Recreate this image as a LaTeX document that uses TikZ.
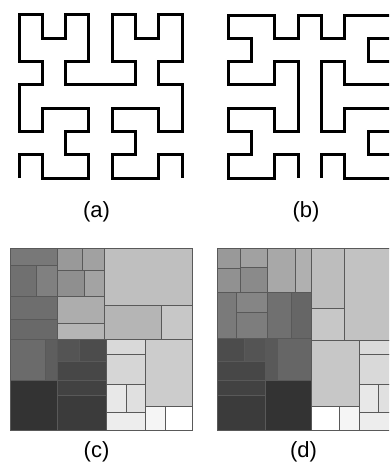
\documentclass[tikz,border=0pt]{standalone}
\usepackage{fontspec}
\setmainfont{Liberation Sans}

\begin{document}
\begin{tikzpicture}[x=1pt,y=-1pt,
  curve/.style={line width=3pt},
  cell/.style={draw=black!65,line width=1pt},
  lab/.style={inner sep=0pt,font=\fontsize{22}{26}\selectfont}]
\useasboundingbox (0,0) rectangle (389,463);
\clip (0,0) rectangle (389,463);
% (a) Hilbert curve
\begin{scope}[shift={(19,178)},x=23.3pt,y=23.3pt]
\draw[curve] (0,0) -- (0,1) -- (1,1) -- (1,0) -- (2,0) -- (3,0) -- (3,1) -- (2,1)
  -- (2,2) -- (3,2) -- (3,3) -- (2,3) -- (1,3) -- (1,2) -- (0,2) -- (0,3)
  -- (0,4) -- (1,4) -- (1,5) -- (0,5) -- (0,6) -- (0,7) -- (1,7) -- (1,6)
  -- (2,6) -- (2,7) -- (3,7) -- (3,6) -- (3,5) -- (2,5) -- (2,4) -- (3,4)
  -- (4,4) -- (5,4) -- (5,5) -- (4,5) -- (4,6) -- (4,7) -- (5,7) -- (5,6)
  -- (6,6) -- (6,7) -- (7,7) -- (7,6) -- (7,5) -- (6,5) -- (6,4) -- (7,4)
  -- (7,3) -- (7,2) -- (6,2) -- (6,3) -- (5,3) -- (4,3) -- (4,2) -- (5,2)
  -- (5,1) -- (4,1) -- (4,0) -- (5,0) -- (6,0) -- (6,1) -- (7,1) -- (7,0);
\end{scope}
% (b) symmetric curve
\begin{scope}[shift={(228.3,15)},x=23.3pt,y=-23.3pt]
\draw[curve] (3,7) -- (3,6) -- (2,6) -- (2,7) -- (0,7) -- (0,6) -- (1,6) -- (1,5)
  -- (0,5) -- (0,4) -- (2,4) -- (2,5) -- (3,5) -- (3,2) -- (2,2) -- (2,3)
  -- (0,3) -- (0,2) -- (1,2) -- (1,1) -- (0,1) -- (0,0) -- (2,0) -- (2,1)
  -- (3,1) -- (3,0) -- (4,0) -- (4,1) -- (5,1) -- (5,0) -- (7,0) -- (7,1)
  -- (6,1) -- (6,2) -- (7,2) -- (7,3) -- (5,3) -- (5,2) -- (4,2) -- (4,5)
  -- (5,5) -- (5,4) -- (7,4) -- (7,5) -- (6,5) -- (6,6) -- (7,6) -- (7,7)
  -- (5,7) -- (5,6) -- (4,6) -- (4,7);
\end{scope}
% (c) treemap
\filldraw[cell,fill=black!53] (10,248) rectangle (57.3,265.7);
\filldraw[cell,fill=black!56] (10,265.7) rectangle (36.7,296);
\filldraw[cell,fill=black!50] (36.7,265.7) rectangle (57.3,296);
\filldraw[cell,fill=black!57] (10,296) rectangle (57.3,319);
\filldraw[cell,fill=black!59] (10,319) rectangle (57.3,339.3);
\filldraw[cell,fill=black!40] (57.3,248) rectangle (82,270);
\filldraw[cell,fill=black!37] (82,248) rectangle (104.3,270);
\filldraw[cell,fill=black!44] (57.3,270) rectangle (84,296);
\filldraw[cell,fill=black!36] (84,270) rectangle (104.3,296);
\filldraw[cell,fill=black!32] (57.3,296) rectangle (104.3,323.3);
\filldraw[cell,fill=black!29] (57.3,323.3) rectangle (104.3,339.3);
\filldraw[cell,fill=black!25] (104.3,248) rectangle (192,305.7);
\filldraw[cell,fill=black!29] (104.3,305.7) rectangle (161.7,339.3);
\filldraw[cell,fill=black!22] (161.7,305.7) rectangle (192,339.3);
\filldraw[cell,fill=black!58] (10,339.3) rectangle (45.7,380.3);
\filldraw[cell,fill=black!63] (45.7,339.3) rectangle (57.3,380.3);
\filldraw[cell,fill=black!80] (10,380.3) rectangle (57.3,430);
\filldraw[cell,fill=black!67] (57.3,339.3) rectangle (79,361);
\filldraw[cell,fill=black!70] (79,339.3) rectangle (106,361);
\filldraw[cell,fill=black!72] (57.3,361) rectangle (106,380.3);
\filldraw[cell,fill=black!74] (57.3,380.3) rectangle (106,395.7);
\filldraw[cell,fill=black!77] (57.3,395.7) rectangle (106,430);
\filldraw[cell,fill=black!15] (106,339.3) rectangle (145.3,354);
\filldraw[cell,fill=black!16] (106,354) rectangle (145.3,384);
\filldraw[cell,fill=black!9] (106,384) rectangle (126,412);
\filldraw[cell,fill=black!12] (126,384) rectangle (145.3,412);
\filldraw[cell,fill=black!7] (106,412) rectangle (145.3,430);
\filldraw[cell,fill=black!20] (145.3,339.3) rectangle (192,406);
\filldraw[cell,fill=black!4] (145.3,406) rectangle (165,430);
\filldraw[cell,fill=white] (165,406) rectangle (192,430);
% (d) treemap
\filldraw[cell,fill=black!40] (217.3,248) rectangle (240.7,268.7);
\filldraw[cell,fill=black!43] (217.3,268.7) rectangle (240.7,292.7);
\filldraw[cell,fill=black!37] (240.7,248) rectangle (267.3,267.3);
\filldraw[cell,fill=black!46] (240.7,267.3) rectangle (267.3,292.7);
\filldraw[cell,fill=black!34] (267.3,248) rectangle (295.7,292.7);
\filldraw[cell,fill=black!31] (295.7,248) rectangle (311.7,292.7);
\filldraw[cell,fill=black!52] (217.3,292.7) rectangle (236,338.3);
\filldraw[cell,fill=black!48] (236,292.7) rectangle (267.3,312.7);
\filldraw[cell,fill=black!51] (236,312.7) rectangle (267.3,338.3);
\filldraw[cell,fill=black!56] (267.3,292.7) rectangle (291.7,338.3);
\filldraw[cell,fill=black!60] (291.7,292.7) rectangle (311.7,338.3);
\filldraw[cell,fill=black!26] (311.7,248) rectangle (344,308.3);
\filldraw[cell,fill=black!22] (311.7,308.3) rectangle (344,340);
\filldraw[cell,fill=black!24] (344,248) rectangle (399.3,340);
\filldraw[cell,fill=black!70] (217.3,338.3) rectangle (244,361);
\filldraw[cell,fill=black!67] (244,338.3) rectangle (265,361);
\filldraw[cell,fill=black!72] (217.3,361) rectangle (265,380);
\filldraw[cell,fill=black!74] (217.3,380) rectangle (265,395.7);
\filldraw[cell,fill=black!77] (217.3,395.7) rectangle (265,430);
\filldraw[cell,fill=black!65] (265,338.3) rectangle (277.7,380);
\filldraw[cell,fill=black!60] (277.7,338.3) rectangle (311.7,380);
\filldraw[cell,fill=black!80] (265,380) rectangle (311.7,430);
\filldraw[cell,fill=black!22] (311.7,340) rectangle (359,406.7);
\filldraw[cell,fill=white] (311.7,406.7) rectangle (339.3,430);
\filldraw[cell,fill=black!4] (339.3,406.7) rectangle (359,430);
\filldraw[cell,fill=black!14] (359,340) rectangle (399.3,354.3);
\filldraw[cell,fill=black!15] (359,354.3) rectangle (399.3,384);
\filldraw[cell,fill=black!9] (359,384) rectangle (378.3,412.3);
\filldraw[cell,fill=black!12] (378.3,384) rectangle (399.3,412.3);
\filldraw[cell,fill=black!7] (359,412.3) rectangle (399.3,430);
% captions
\node[lab] (capa) at (96.5,211.5) {(a)};
\node[lab] (capb) at (306,211.5) {(b)};
\node[lab] (capc) at (96.5,451.5) {(c)};
\node[lab] (capd) at (303.5,451.5) {(d)};
\end{tikzpicture}
\end{document}
